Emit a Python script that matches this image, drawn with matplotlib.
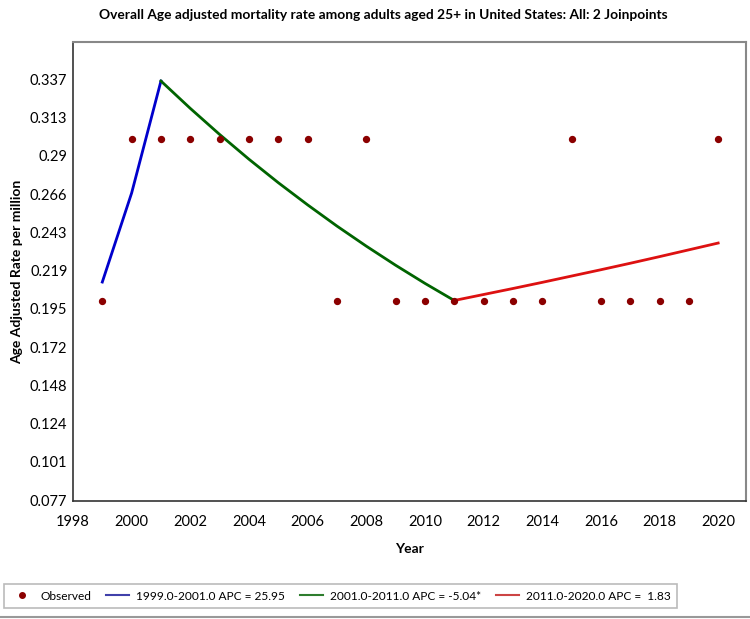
import matplotlib
matplotlib.use("Agg")
import matplotlib.pyplot as plt
from matplotlib.lines import Line2D

plt.rcParams['font.family'] = ['Lato', 'DejaVu Sans']

years = list(range(1999, 2021))
observed = [0.2, 0.3, 0.3, 0.3, 0.3, 0.3, 0.3, 0.3, 0.2, 0.3, 0.2,
            0.2, 0.2, 0.2, 0.2, 0.2, 0.3, 0.2, 0.2, 0.2, 0.2, 0.3]

seg1_years = [1999, 2000, 2001]
seg1_vals = [0.2117, 0.2667, 0.3359]
seg2_years = list(range(2001, 2012))
seg2_vals = [0.3359, 0.3190, 0.3029, 0.2876, 0.2731, 0.2594, 0.2463,
             0.2339, 0.2221, 0.2109, 0.2003]
seg3_years = list(range(2011, 2021))
seg3_vals = [0.2003, 0.2040, 0.2077, 0.2115, 0.2154, 0.2193, 0.2233,
             0.2274, 0.2316, 0.2358]

labels = ["Observed", "1999.0-2001.0 APC = 25.95",
          "2001.0-2011.0 APC = -5.04*", "2011.0-2020.0 APC =  1.83"]

ytick_vals = [0.077, 0.1006, 0.1243, 0.1479, 0.1715, 0.1952, 0.2188,
              0.2425, 0.2661, 0.2897, 0.3134, 0.337]
ytick_labels = ["0.077", "0.101", "0.124", "0.148", "0.172", "0.195",
                "0.219", "0.243", "0.266", "0.29", "0.313", "0.337"]
xticks = list(range(1998, 2021, 2))

fig = plt.figure(figsize=(7.5, 6.19), dpi=100)
ax = fig.add_axes([0.0973, 0.1906, 0.8974, 0.7415])

ax.scatter(years, observed, s=18, color='#8b0000', zorder=3)
ax.plot(seg1_years, seg1_vals, color='#0000cc', lw=2)
ax.plot(seg2_years, seg2_vals, color='#006400', lw=2)
ax.plot(seg3_years, seg3_vals, color='#dd1111', lw=2)

ax.set_xlim(1998, 2020.95)
ax.set_ylim(0.0764, 0.360)
ax.set_xticks(xticks)
ax.set_yticks(ytick_vals)
ax.set_yticklabels(ytick_labels)
ax.tick_params(length=0, labelsize=10.5)
ax.tick_params(axis='x', pad=10)
ax.tick_params(axis='y', pad=4)
for s in ['top', 'right']:
    ax.spines[s].set_color('#888888')
    ax.spines[s].set_linewidth(1.5)
for s in ['left', 'bottom']:
    ax.spines[s].set_color('#333333')
    ax.spines[s].set_linewidth(1.2)

ax.set_xlabel("Year", fontsize=10, fontweight='bold', labelpad=10)
ax.set_ylabel("Age Adjusted Rate per million", fontsize=10, fontweight='bold', labelpad=5)
fig.text(0.511, 0.976, "Overall Age adjusted mortality rate among adults aged 25+ in United States: All: 2 Joinpoints",
         ha='center', va='center', fontsize=9.9, fontweight='bold')

handles = [Line2D([], [], ls='', marker='o', ms=4, color='#8b0000'),
           Line2D([], [], color='#4040aa', lw=1.5),
           Line2D([], [], color='#2e7d2e', lw=1.5),
           Line2D([], [], color='#cc4444', lw=1.5)]
leg = fig.legend(handles, labels, loc='center left', bbox_to_anchor=(-0.003, 0.037),
                 ncol=4, frameon=True, fontsize=8.6, fancybox=False,
                 handlelength=1.95, columnspacing=1.2, handletextpad=0.6,
                 borderpad=0.55)
leg.get_frame().set_edgecolor('#aaaaaa')
leg.get_frame().set_linewidth(1.2)
fig.add_artist(Line2D([0, 1], [0.003, 0.003], color='#999999', lw=1.5, transform=fig.transFigure))

fig.savefig("out.png", dpi=100)
